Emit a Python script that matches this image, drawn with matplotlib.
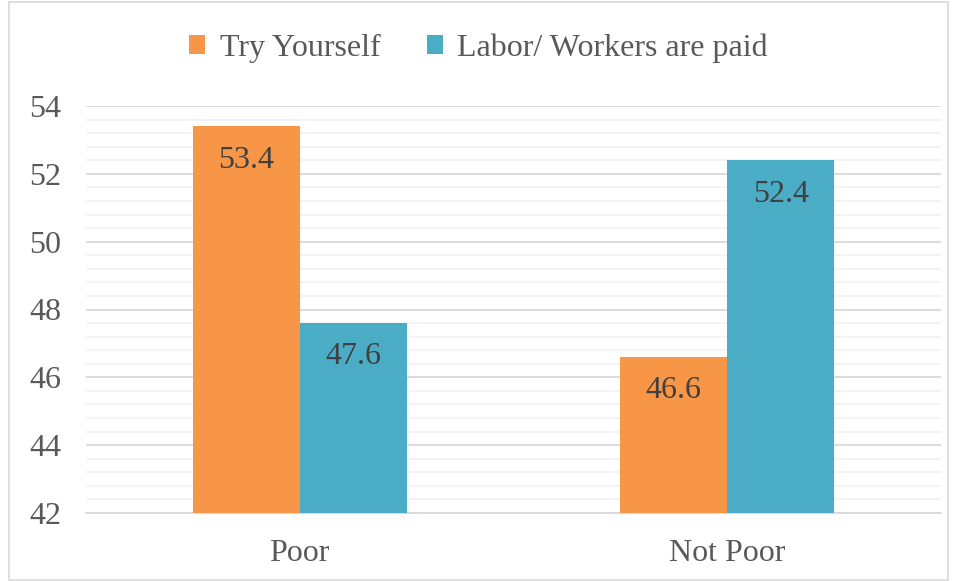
import numpy as np
import matplotlib.pyplot as plt
from matplotlib.patches import Rectangle
from matplotlib.ticker import MultipleLocator

categories = ['Poor', 'Not Poor']
series_names = ['Try Yourself', 'Labor/ Workers are paid']
try_yourself = [53.4, 46.6]
labor_paid = [47.6, 52.4]
colors = ['#F79646', '#4BACC6']

plt.rcParams['font.family'] = ['Liberation Serif', 'DejaVu Serif']
fs = 23

fig = plt.figure(figsize=(9.57, 5.81), dpi=100)
ax = fig.add_axes([86 / 957, 1 - 513 / 581, 855 / 957, 407 / 581])

x = np.arange(len(categories))
w = 0.25
for i, (vals, name) in enumerate(zip([try_yourself, labor_paid], series_names)):
    bars = ax.bar(x + (i - 0.5) * w, np.array(vals) - 42, width=w, bottom=42,
                  color=colors[i], label=name, zorder=3)
    for b, v in zip(bars, vals):
        ax.text(b.get_x() + b.get_width() / 2, v - 1.0, f'{v:.1f}',
                ha='center', va='center', fontsize=fs, color='#404040', zorder=4)

ax.set_xlim(-0.5, 1.5)
ax.set_ylim(42, 54)
ax.yaxis.set_major_locator(MultipleLocator(2))
ax.yaxis.set_minor_locator(MultipleLocator(0.4))
ax.grid(axis='y', which='major', color='#d9d9d9', linewidth=1.3, zorder=0)
ax.grid(axis='y', which='minor', color='#f2f2f2', linewidth=1.3, zorder=0)
ax.set_xticks(x)
ax.set_xticklabels(categories)
ax.tick_params(axis='both', which='both', length=0, labelsize=fs, labelcolor='#595959')
ax.tick_params(axis='y', pad=18)
ax.tick_params(axis='x', pad=19)
for s in ['top', 'right', 'left']:
    ax.spines[s].set_visible(False)
ax.spines['bottom'].set_color('#d9d9d9')
ax.spines['bottom'].set_linewidth(1.3)

fig.legend(loc='center', bbox_to_anchor=(0.5, 1 - 48 / 581), ncol=2, frameon=False,
           fontsize=fs, labelcolor='#595959', handlelength=0.5, handleheight=0.5,
           handletextpad=0.45, columnspacing=1.45)

fig.patches.append(Rectangle((9 / 957, 0.002), 1 - 18 / 957, 0.994, transform=fig.transFigure,
                             fill=False, edgecolor='#d9d9d9', linewidth=1.2))

fig.savefig('out.png', dpi=100)
